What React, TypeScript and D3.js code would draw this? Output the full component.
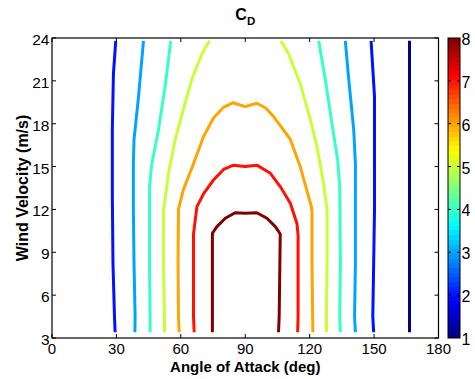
import React from "react";
import * as d3 from "d3";

// ---- data ----
const xTicks = [0, 30, 60, 90, 120, 150, 180];
const yTicks = [3, 6, 9, 12, 15, 18, 21, 24];
const cbTicks = [1, 2, 3, 4, 5, 6, 7, 8];
const levelRange: [number, number] = [1, 8];

// contour polylines: [angle (deg), wind velocity (m/s)]
const level1Right = [[166.5, 3.4], [166.5, 12], [166.5, 23.8]];
const level2Left = [[29.4, 3.4], [29.1, 4.5], [28.4, 8.2], [28.1, 12.9], [28.1, 17.6], [28.6, 21.5], [29.7, 23.8]];
const level2Right = [[149.8, 3.4], [149.4, 4.5], [149.8, 8.2], [150.2, 12], [150.2, 19.9], [148.6, 23.8]];
const level3Left = [[38.6, 3.4], [38.7, 4.5], [38.2, 8.2], [37.9, 12], [37.9, 15.2], [38.2, 16.9], [40.3, 19.9], [42.6, 23.8]];
const level3Right = [[141.3, 3.4], [140.9, 4.5], [141.3, 8.2], [141.3, 15.2], [140.5, 17.6], [138.2, 21.1], [136.6, 23.8]];
const level4Left = [[45.7, 3.4], [45.7, 4.5], [45.4, 8.2], [45.4, 13.6], [46.5, 15.2], [49.6, 17.6], [52.7, 20.6], [55.3, 23.8]];
const level4Right = [[134.3, 3.4], [134, 4.5], [134.3, 8.2], [134, 13.6], [133, 15.5], [130.4, 18], [127.3, 21.1], [124.2, 23.8]];
const level5Left = [[52.4, 3.4], [52.4, 4.5], [51.9, 8.2], [51.9, 12], [52.4, 12.4], [54.2, 14.5], [57.4, 16.9], [61.2, 19], [65.1, 21.1], [69.8, 22.9], [73.4, 23.8]];
const level5Right = [[127.8, 3.4], [127.8, 4.5], [128.1, 8.2], [128.1, 12], [126.5, 13.8], [123.4, 16.4], [120.3, 18.3], [115.6, 20.8], [110.2, 22.9], [106.6, 23.8]];
const level6 = [[59.2, 3.4], [58.9, 4.5], [58.7, 8.2], [58.9, 12], [61.2, 13.4], [65.9, 15.2], [70.6, 17.1], [75.2, 18.4], [79.9, 19.15], [84.3, 19.47], [90, 19.2], [95.4, 19.43], [99.5, 19.1], [103.2, 18.5], [111, 16.9], [115.6, 15.0], [120.8, 12.2], [121.1, 11.8], [121.1, 8.2], [121.4, 4.5], [121.5, 3.4]];
const level7 = [[66.2, 3.4], [65.9, 4.5], [65.9, 10.3], [67.5, 12.2], [70.6, 13.1], [75.2, 14.06], [79.9, 14.8], [84.5, 15.1], [90, 15.0], [95.4, 15.1], [101.7, 14.53], [106.3, 13.6], [111, 12.43], [114.1, 11.0], [114.6, 10.2], [114.6, 4.5], [114.4, 3.4]];
const level8 = [[74.7, 3.4], [74.7, 10.33], [76.8, 10.8], [80.7, 11.38], [85.3, 11.77], [90, 11.74], [95.4, 11.77], [100.1, 11.38], [104, 10.8], [106.3, 10.28], [105.8, 4.5], [105.5, 3.4]];

const contourSeries: { level: number; pts: number[][] }[] = [
  { level: 1, pts: level1Right },
  { level: 2, pts: level2Left },
  { level: 2, pts: level2Right },
  { level: 3, pts: level3Left },
  { level: 3, pts: level3Right },
  { level: 4, pts: level4Left },
  { level: 4, pts: level4Right },
  { level: 5, pts: level5Left },
  { level: 5, pts: level5Right },
  { level: 6, pts: level6 },
  { level: 7, pts: level7 },
  { level: 8, pts: level8 },
];

// ---- layout ----
const W = 475, H = 379;
const L = 52, R = 438.5, T = 38, B = 338;
const CBX = 448, CBW = 12;
const FONT = "'Liberation Sans', Arial, Helvetica, sans-serif";

function jet(t: number): string {
  const c = (v: number) => Math.max(0, Math.min(1, v));
  const r = c(Math.min(4 * t - 1.5, -4 * t + 4.5));
  const g = c(Math.min(4 * t - 0.5, -4 * t + 3.5));
  const b = c(Math.min(4 * t + 0.5, -4 * t + 2.5));
  return d3.rgb(r * 255, g * 255, b * 255).formatHex();
}

export default function App() {
  const x = d3.scaleLinear().domain([0, 180]).range([L, R]);
  const y = d3.scaleLinear().domain([3, 24]).range([B, T]);
  const cy = d3.scaleLinear().domain(levelRange).range([B, T]);
  const norm = d3.scaleLinear().domain(levelRange).range([0, 1]);
  const line = d3
    .line<number[]>()
    .x((d) => x(d[0]))
    .y((d) => y(d[1]));

  const nBands = 64;
  const bands = d3.range(nBands).map((i) => {
    const v0 = levelRange[0] + ((levelRange[1] - levelRange[0]) * i) / nBands;
    const v1 = levelRange[0] + ((levelRange[1] - levelRange[0]) * (i + 1)) / nBands;
    return { v0, v1, color: jet((i + 0.5) / nBands) };
  });

  const tickLen = 4;

  return (
    <svg
      width={W}
      height={H}
      style={{ position: "absolute", left: 0, top: 0, background: "#fff" }}
      fontFamily={FONT}
    >
      <rect x={0} y={0} width={W} height={H} fill="#fff" />
      <defs>
        <clipPath id="clip">
          <rect x={L} y={T} width={R - L} height={B - T} />
        </clipPath>
      </defs>
      {/* contours */}
      <g clipPath="url(#clip)">
        {contourSeries.map((s, i) => (
          <path
            key={i}
            d={line(s.pts) || ""}
            fill="none"
            stroke={jet(norm(s.level))}
            strokeWidth={3}
            strokeLinejoin="round"
          />
        ))}
      </g>
      {/* axes box */}
      <rect x={L} y={T} width={R - L} height={B - T} fill="none" stroke="#000" strokeWidth={1.2} />
      {xTicks.map((t) => (
        <g key={"x" + t}>
          <line x1={x(t)} x2={x(t)} y1={B} y2={B - tickLen} stroke="#000" strokeWidth={1} />
          <line x1={x(t)} x2={x(t)} y1={T} y2={T + tickLen} stroke="#000" strokeWidth={1} />
          <text x={x(t)} y={B + 15.5} fontSize={15} textAnchor="middle" fill="#000">
            {t}
          </text>
        </g>
      ))}
      {yTicks.map((t) => (
        <g key={"y" + t}>
          <line x1={L} x2={L + tickLen} y1={y(t)} y2={y(t)} stroke="#000" strokeWidth={1} />
          <line x1={R} x2={R - tickLen} y1={y(t)} y2={y(t)} stroke="#000" strokeWidth={1} />
          <text x={L - 2.5} y={y(t) + 7} fontSize={15.5} textAnchor="end" fill="#000">
            {t}
          </text>
        </g>
      ))}
      {/* axis labels */}
      <text x={(L + R) / 2} y={372} fontSize={15} fontWeight="bold" textAnchor="middle" fill="#000">
        Angle of Attack (deg)
      </text>
      <text
        transform={`translate(27.5, ${(T + B) / 2}) rotate(-90)`}
        fontSize={16}
        fontWeight="bold"
        textAnchor="middle"
        fill="#000"
      >
        Wind Velocity (m/s)
      </text>
      {/* title */}
      <text x={(L + R) / 2} y={20} fontSize={16} fontWeight="bold" textAnchor="middle" fill="#000">
        C
        <tspan fontSize={11.5} dy={5}>
          D
        </tspan>
      </text>
      {/* colorbar */}
      {bands.map((b, i) => (
        <rect
          key={"b" + i}
          x={CBX}
          y={cy(b.v1)}
          width={CBW}
          height={cy(b.v0) - cy(b.v1) + 0.3}
          fill={b.color}
          shapeRendering="crispEdges"
        />
      ))}
      <rect x={CBX} y={T} width={CBW} height={B - T} fill="none" stroke="#000" strokeWidth={1} />
      {cbTicks.map((t) => (
        <g key={"c" + t}>
          {t > levelRange[0] && t < levelRange[1] && (
            <>
              <line x1={CBX} x2={CBX + 3} y1={cy(t)} y2={cy(t)} stroke="#000" strokeWidth={1} />
              <line x1={CBX + CBW} x2={CBX + CBW - 3} y1={cy(t)} y2={cy(t)} stroke="#000" strokeWidth={1} />
            </>
          )}
          <text x={CBX + CBW + 1.5} y={cy(t) + 7} fontSize={16} fill="#000">
            {t}
          </text>
        </g>
      ))}
    </svg>
  );
}
